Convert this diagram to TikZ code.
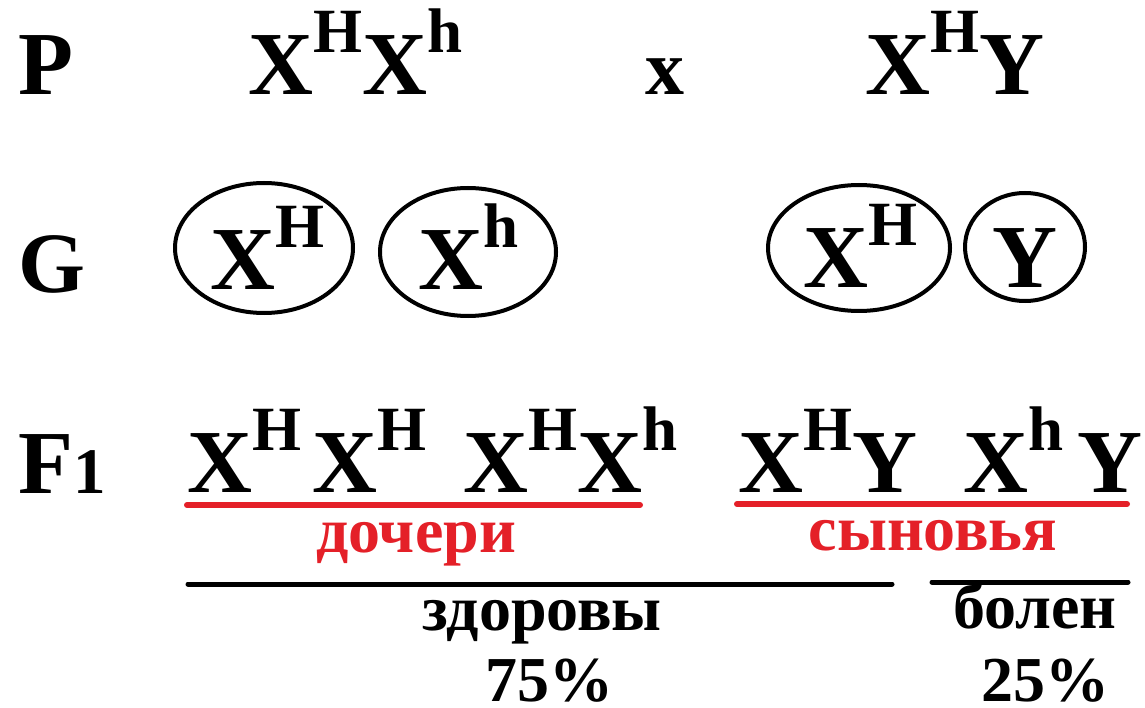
\documentclass[tikz,border=0pt]{standalone}
\usepackage{fontspec}
\setmainfont{Liberation Serif}
\usepackage{tikz}
\usetikzlibrary{shapes.geometric}
\definecolor{GenRed}{RGB}{228,32,40}
\newcommand\bigfont{\fontsize{90}{90}\selectfont\bfseries}
\newcommand\wordfont{\fontsize{64}{64}\selectfont\bfseries}
\newcommand\allel[1]{\raisebox{42pt}{\fontsize{63}{63}\selectfont\bfseries #1}}

\begin{document}
\begin{tikzpicture}[x=1pt,y=-1pt,
  gen/.style={font=\bigfont,anchor=base west,inner sep=0pt},
  word/.style={font=\wordfont,anchor=base,inner sep=0pt},
  gamete/.style={draw,ellipse,line width=4pt,inner sep=0pt},
  redrule/.style={GenRed,line width=6pt,line cap=round},
  blackrule/.style={black,line width=5pt,line cap=round},
]
\useasboundingbox (0,0) rectangle (1145,708);
% P
\node[gen] (lblP) at (18,95) {P};
\node[gen] (pMother) at (248,95) {X\allel{H}X\allel{h}};
\node[gen,font=\fontsize{78}{78}\selectfont\bfseries] (pCross) at (645,95) {x};
\node[gen] (pFather) at (865,95) {X\allel{H}Y};
% G
\node[gen,font=\fontsize{86}{86}\selectfont\bfseries] (lblG) at (18,293) {G};
\node[gamete,minimum width=178pt,minimum height=130pt] (eXH) at (264,248) {};
\node[gamete,minimum width=176pt,minimum height=128pt] (eXh) at (468,252) {};
\node[gamete,minimum width=182pt,minimum height=126pt] (eXH2) at (859,248) {};
\node[gamete,minimum width=120pt,minimum height=108pt] (eY) at (1025,247) {};
\node[gen] (gXH) at (210,290) {X\allel{H}};
\node[gen] (gXh) at (418,290) {X\allel{h}};
\node[gen] (gXH2) at (803,288) {X\allel{H}};
\node[gen] (gY) at (992,288) {Y};
% F1
\node[gen] (lblF) at (18,493) {F{\fontsize{65}{65}\selectfont\bfseries 1}};
\node[gen] (fXHXH) at (187,492) {X\allel{H}\kern11pt X\allel{H}};
\node[gen] (fXHXh) at (463,492) {X\allel{H}X\allel{h}};
\node[gen] (fXHY) at (738,492) {X\allel{H}Y};
\node[gen] (fXhY) at (963,492) {X\allel{h}\kern14pt Y};
\draw[redrule] (187,505) -- (640,505);
\draw[redrule] (737,504) -- (1127,504);
\node[word,text=GenRed] (daughters) at (416,552) {дочери};
\node[word,text=GenRed] (sons) at (933,550) {сыновья};
\draw[blackrule] (188,584) -- (892,584);
\draw[blackrule] (932,582) -- (1128,582);
\node[word] (healthy) at (542,630) {здоровы};
\node[word] (ill) at (1035,628) {болен};
\node[word] (pct75) at (549,701) {75\%};
\node[word] (pct25) at (1045,701) {25\%};
\end{tikzpicture}
\end{document}
